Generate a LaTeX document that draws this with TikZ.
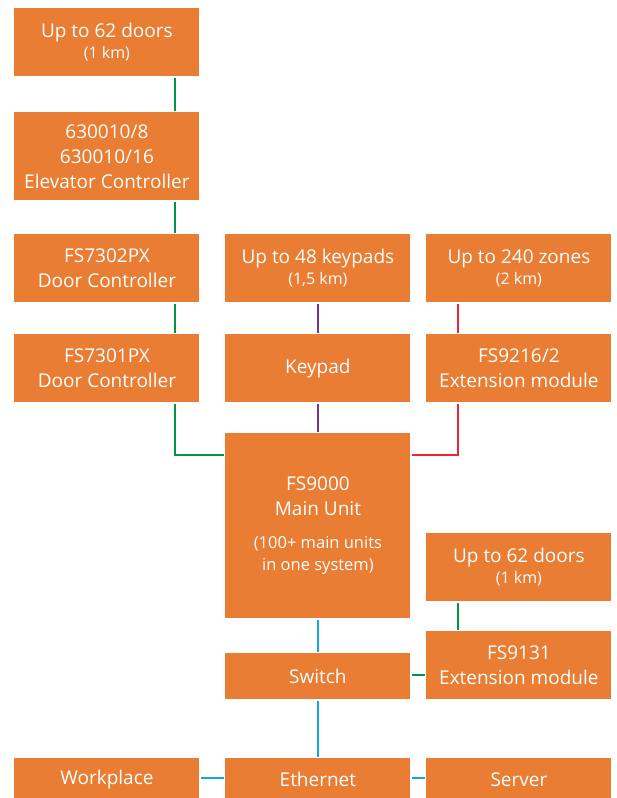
\documentclass[tikz,border=0pt]{standalone}
\usepackage{fontspec}
\setmainfont{Open Sans}
\usepackage{tikz}
\usetikzlibrary{positioning, calc}

\definecolor{boxorange}{RGB}{233,125,52}
\definecolor{linegreen}{RGB}{0,150,70}
\definecolor{linepurple}{RGB}{110,55,150}
\definecolor{linered}{RGB}{232,40,50}
\definecolor{lineblue}{RGB}{20,165,225}
\newcommand{\subtext}[1]{{\fontsize{16}{20}\selectfont #1}}
\newcommand{\notetext}[1]{{\fontsize{16.5}{21}\selectfont #1}}

\begin{document}
\begin{tikzpicture}[x=1pt, y=-1pt, line width=2.8pt,
    unit/.style={fill=boxorange, text=white, anchor=north west, inner sep=0pt,
        minimum width=185pt, align=center, font=\fontsize{19}{25}\selectfont},
    gline/.style={draw=linegreen},
    pline/.style={draw=linepurple},
    rline/.style={draw=linered},
    bline/.style={draw=lineblue}]
                    \useasboundingbox (0, 0) rectangle (616, 798);
                    % left column
                    \node[unit, minimum height=68pt] (doorsA) at (13, 7) {Up to 62 doors\\[-4pt]\subtext{(1 km)}};
                    \node[unit, minimum height=88pt] (elev) at (13, 111) {630010/8\\630010/16\\Elevator Controller};
                    \node[unit, minimum height=68pt] (dcB) at (13, 233) {FS7302PX\\Door Controller};
                    \node[unit, minimum height=68pt] (dcA) at (13, 333) {FS7301PX\\Door Controller};
                    % middle column
                    \node[unit, minimum height=68pt] (keypads) at (224, 233) {Up to 48 keypads\\[-4pt]\subtext{(1,5 km)}};
                    \node[unit, minimum height=68pt] (keypad) at (224, 333) {Keypad};
                    \node[unit, minimum height=185pt] (main) at (224, 432) {FS9000\\Main Unit\\[8pt]\notetext{(100+ main units}\\[-3pt]\notetext{in one system)}};
                    \node[unit, minimum height=46pt] (switch) at (224, 652) {Switch};
                    % right column
                    \node[unit, minimum height=68pt] (zones) at (425, 233) {Up to 240 zones\\[-4pt]\subtext{(2 km)}};
                    \node[unit, minimum height=68pt] (ext) at (425, 333) {FS9216/2\\Extension module};
                    \node[unit, minimum height=68pt] (doorsB) at (425, 532) {Up to 62 doors\\[-4pt]\subtext{(1 km)}};
                    \node[unit, minimum height=68pt] (extB) at (425, 630) {FS9131\\Extension module};
                    % bottom row
                    \node[unit, minimum height=42pt] (work) at (13, 757) {Workplace};
                    \node[unit, minimum height=42pt] (eth) at (224, 757) {Ethernet};
                    \node[unit, minimum height=42pt] (server) at (425, 757) {Server};
                    % bus positions
                    \coordinate (gx) at (175, 455);
                    \coordinate (rx) at (458, 455);
                    % connectors
                    \draw[gline] (doorsA.south -| gx) -- (elev.north -| gx);
                    \draw[gline] (elev.south -| gx) -- (dcB.north -| gx);
                    \draw[gline] (dcB.south -| gx) -- (dcA.north -| gx);
                    \draw[gline] (dcA.south -| gx) -- (gx) -- (main.west |- gx);
                    \draw[pline] (keypads) -- (keypad);
                    \draw[pline] (keypad.south) -- (main.north);
                    \draw[rline] (zones.south -| rx) -- (ext.north -| rx);
                    \draw[rline] (ext.south -| rx) -- (rx) -- (main.east |- rx);
                    \draw[bline] (main.south) -- (switch.north);
                    \draw[gline] (doorsB.south -| rx) -- (extB.north -| rx);
                    \draw[gline] (switch.east |- 0, 675) -- (extB.west |- 0, 675);
                    \draw[bline] (switch.south) -- (eth.north);
                    \draw[bline] (work.east |- 0, 778) -- (eth.west |- 0, 778);
                    \draw[bline] (eth.east |- 0, 778) -- (server.west |- 0, 778);
                \end{tikzpicture}
\end{document}
